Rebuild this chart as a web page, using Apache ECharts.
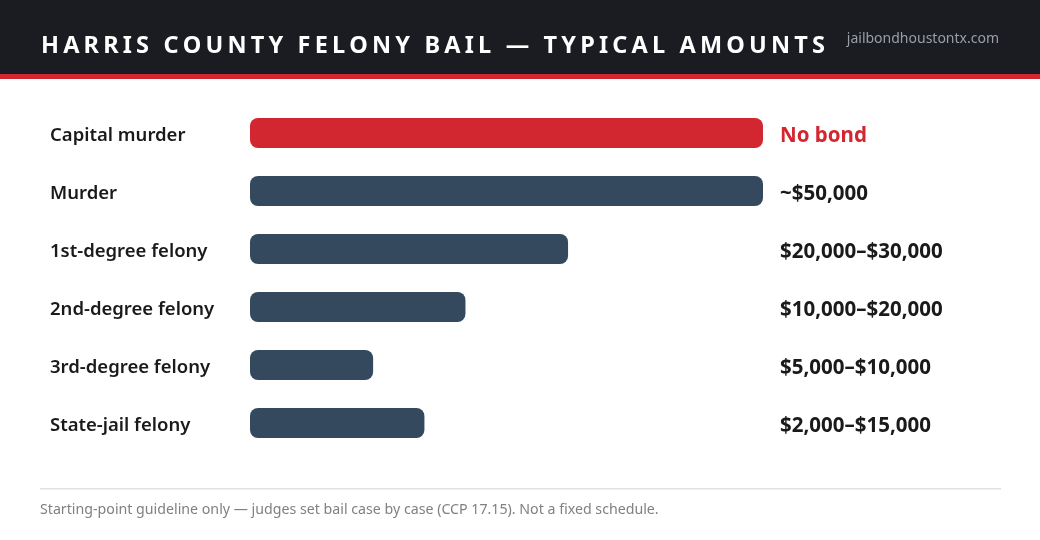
<!DOCTYPE html>
<html>
<head>
<meta charset="utf-8">
<script src="https://cdn.jsdelivr.net/npm/echarts@6/dist/echarts.min.js"></script>
<style>
  html, body { margin: 0; padding: 0; background: #fff; }
  #chart { width: 1040px; height: 540px; }
</style>
</head>
<body>
<div id="chart"></div>
<script>
// chart data
const categories = ['Capital murder', 'Murder', '1st-degree felony', '2nd-degree felony', '3rd-degree felony', 'State-jail felony'];
const barValues = [50000, 50000, 31000, 21000, 12000, 17000];
const amountLabels = ['No bond', '~$50,000', '$20,000\u2013$30,000', '$10,000\u2013$20,000', '$5,000\u2013$10,000', '$2,000\u2013$15,000'];
const titleText = 'HARRIS COUNTY FELONY BAIL \u2014 TYPICAL AMOUNTS';
const siteText = 'jailbondhoustontx.com';
const noteText = 'Starting-point guideline only \u2014 judges set bail case by case (CCP 17.15). Not a fixed schedule.';

const RED = '#d22630';
const NAVY = '#34495e';
const INK = '#1a1a1a';
const FONT = '"Noto Sans", "Open Sans", sans-serif';

// canvas text has no letter-spacing, so lay the title out one glyph at a time
function trackedText(text, x, y, font, fill, totalWidth) {
  const ctx = document.createElement('canvas').getContext('2d');
  ctx.font = font;
  const chars = text.split('');
  const widths = chars.map(c => ctx.measureText(c).width);
  const sum = widths.reduce((a, b) => a + b, 0);
  const gap = (totalWidth - sum) / (chars.length - 1);
  let cx = x;
  return chars.map((c, i) => {
    const el = {
      type: 'text', x: cx, y: y, silent: true,
      style: { text: c, font: font, fill: fill, textVerticalAlign: 'middle' }
    };
    cx += widths[i] + gap;
    return el;
  });
}

const chart = echarts.init(document.getElementById('chart'), null, { renderer: 'canvas' });

chart.setOption({
  animation: false,
  backgroundColor: '#fff',
  grid: { left: 250, right: 277, top: 104, bottom: 88 },
  xAxis: {
    type: 'value',
    min: 0,
    max: 50000,
    show: false
  },
  yAxis: [
    {
      type: 'category',
      data: categories,
      inverse: true,
      axisLine: { show: false },
      axisTick: { show: false },
      splitLine: { show: false },
      axisLabel: {
        align: 'left',
        verticalAlign: 'top',
        lineHeight: 6,
        margin: 200,
        fontFamily: FONT,
        fontSize: 18.5,
        fontWeight: 600,
        color: INK
      }
    },
    {
      type: 'category',
      data: amountLabels,
      inverse: true,
      position: 'right',
      axisLine: { show: false },
      axisTick: { show: false },
      splitLine: { show: false },
      axisLabel: {
        align: 'left',
        verticalAlign: 'top',
        lineHeight: 6,
        margin: 17,
        fontFamily: FONT,
        fontSize: 20.5,
        fontWeight: 'bold',
        color: (v, i) => i === 0 ? RED : INK
      }
    }
  ],
  series: [{
    type: 'bar',
    data: barValues,
    barWidth: 30,
    silent: true,
    itemStyle: {
      borderRadius: 8,
      color: p => p.dataIndex === 0 ? RED : NAVY
    }
  }],
  graphic: [
    { type: 'rect', left: 0, top: 0, shape: { width: 1040, height: 74 }, style: { fill: '#1a1c22' } },
    { type: 'rect', left: 0, top: 74, shape: { width: 1040, height: 5 }, style: { fill: RED } },
    {
      type: 'group',
      children: trackedText(titleText, 41, 46, 'bold 23.5px ' + FONT, '#fff', 784)
    },
    {
      type: 'text', x: 999, y: 39,
      style: {
        text: siteText, fill: '#9a9ea6', font: '14px ' + FONT,
        textAlign: 'right', textVerticalAlign: 'middle'
      }
    },
    { type: 'rect', left: 40, top: 488, shape: { width: 961, height: 1.5 }, style: { fill: '#e2e2e6' } },
    {
      type: 'text', x: 40, y: 510,
      style: {
        text: noteText, fill: '#808080', font: '14.2px ' + FONT,
        textVerticalAlign: 'middle'
      }
    }
  ]
});
</script>
</body>
</html>
